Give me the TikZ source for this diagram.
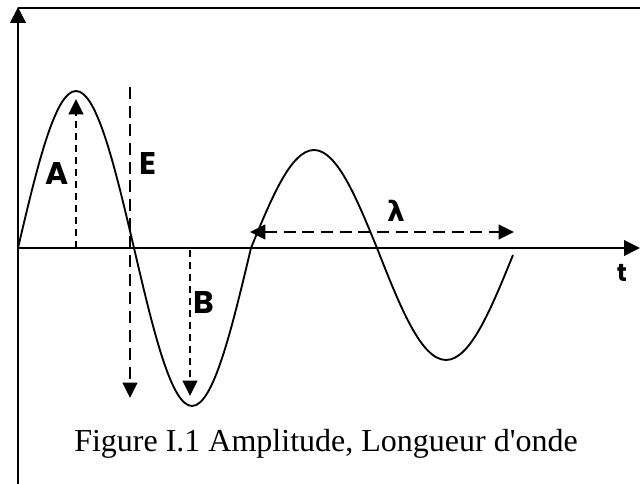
\documentclass[tikz,border=0pt]{standalone}
\usepackage{fontspec}
\setmainfont{Liberation Serif}
\newfontfamily\lblfont{Poppins}
\newfontfamily\grkfont{DejaVu Sans}
\usetikzlibrary{arrows.meta}
\tikzset{
  axisline/.style={line width=2pt},
  wave/.style={line width=1.4pt},
  dshort/.style={line width=1.4pt, dash pattern=on 5pt off 4pt, -{Triangle[length=11.5pt,width=11pt]}},
  dlong/.style={line width=1.4pt, dash pattern=on 9pt off 5pt, -{Triangle[length=11.5pt,width=11pt]}},
  dboth/.style={line width=1.4pt, dash pattern=on 9pt off 5pt, {Triangle[length=11.5pt,width=11pt]}-{Triangle[length=11.5pt,width=11pt]}},
  lbl/.style={font=\lblfont\bfseries\fontsize{23.5}{23.5}\selectfont, inner sep=0pt},
  captext/.style={font=\fontsize{24}{26}\selectfont, inner sep=0pt}
}
\begin{document}
\begin{tikzpicture}[x=0.75pt,y=-0.75pt]
\useasboundingbox (0,0) rectangle (640,484);
% axes and frame
\coordinate (ybot) at (18,484);
\coordinate (ytop) at (18,7);
\coordinate (xl) at (18,248);
\coordinate (xr) at (640,248);
\coordinate (tr) at (640,8);
\coordinate (tl) at (18,8);
\draw[axisline] (tl) -- (tr);
\draw[axisline,-{Triangle[length=12pt,width=11.5pt]}] (ybot) -- (ytop);
\draw[axisline,-{Triangle[length=12pt,width=11.5pt]}] (xl) -- (xr);
% wave
\coordinate (w0) at (18,248);
\coordinate (w1) at (76,91);
\coordinate (w2) at (134,248);
\coordinate (w3) at (192,406);
\coordinate (w4) at (251,248);
\coordinate (w5) at (314,150);
\coordinate (w6) at (377,248);
\coordinate (w7) at (446,360);
\coordinate (w8) at (513,255);
\draw[wave] (w0) sin (w1) cos (w2) sin (w3) cos (w4) sin (w5) cos (w6) sin (w7) cos (w8);
% dashed arrows
\coordinate (a0) at (76,248);
\coordinate (a1) at (76,99);
\draw[dshort] (a0) -- (a1);
\coordinate (e0) at (130,87);
\coordinate (e1) at (130,398);
\draw[dlong] (e0) -- (e1);
\coordinate (b0) at (190,250);
\coordinate (b1) at (190,396);
\draw[dshort] (b0) -- (b1);
\coordinate (l0) at (250,232);
\coordinate (l1) at (514,232);
\draw[dboth] (l0) -- (l1);
% labels
\node[lbl] (A) at (57,174) {A};
\node[lbl] (E) at (148,164) {E};
\node[lbl] (B) at (204,303) {B};
\node[font=\grkfont\bfseries\fontsize{21}{21}\selectfont, inner sep=0pt] (lam) at (396,211) {λ};
\node[lbl, font=\lblfont\bfseries\fontsize{18.5}{18.5}\selectfont] (t) at (622,273) {t};
\node[captext] (caption) at (326,444) {Figure I.1 Amplitude, Longueur d\textquotesingle onde};
\end{tikzpicture}
\end{document}
